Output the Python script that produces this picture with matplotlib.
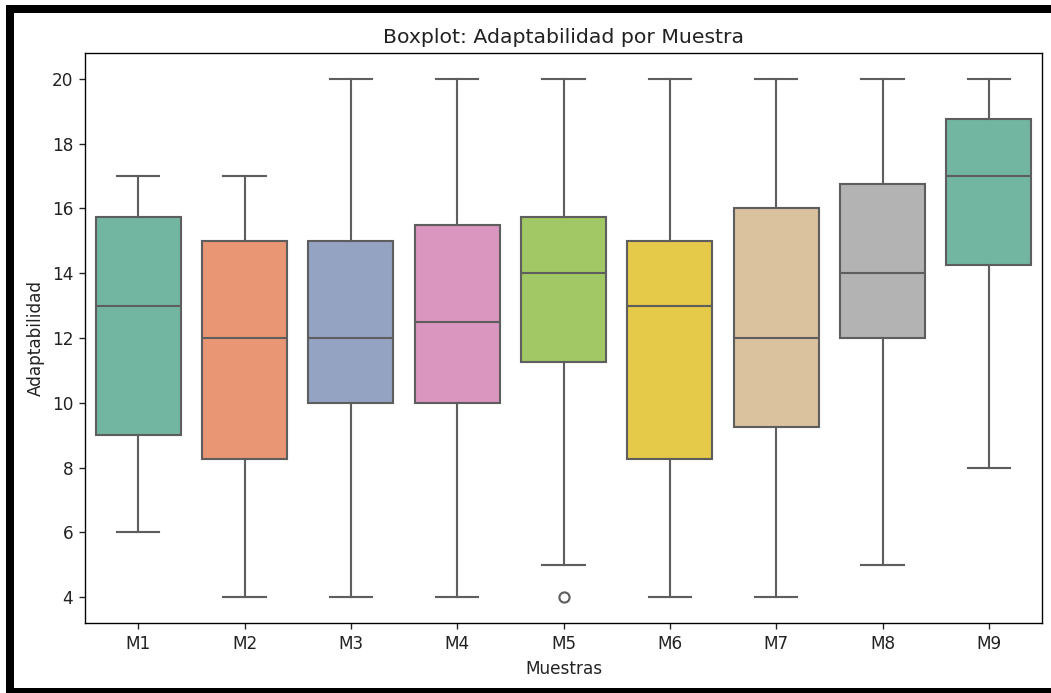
import colorsys
import matplotlib
matplotlib.use("Agg")
import matplotlib.pyplot as plt
import matplotlib.colors as mcolors
from matplotlib.patches import Rectangle

# ── Data ───────────────────────────────────────────────────────────────────────
muestras  = ["M1", "M2", "M3", "M4", "M5", "M6", "M7", "M8", "M9"]
whis_low  = [6, 4, 4, 4, 5, 4, 4, 5, 8]
q1        = [9, 8.25, 10, 10, 11.25, 8.25, 9.25, 12, 14.25]
medians   = [13, 12, 12, 12.5, 14, 13, 12, 14, 17]
q3        = [15.75, 15, 15, 15.5, 15.75, 15, 16, 16.75, 18.75]
whis_high = [17, 17, 20, 20, 20, 20, 20, 20, 20]
outliers  = [[], [], [], [], [4], [], [], [], []]

# the screenshot looks scaled up ~1.22x from a default-sized render
S = 1.22
plt.rcParams.update({
    "axes.linewidth": 0.8 * S,
    "xtick.major.width": 0.8 * S, "ytick.major.width": 0.8 * S,
    "xtick.major.size": 3.5 * S, "ytick.major.size": 3.5 * S,
    "xtick.major.pad": 3.5 * S, "ytick.major.pad": 3.5 * S,
    "xtick.labelsize": 10 * S, "ytick.labelsize": 10 * S,
    "axes.titlepad": 6 * S, "axes.labelpad": 4 * S,
    "xtick.color": "#222222", "ytick.color": "#222222",
})

# Set2 palette, desaturated like seaborn (saturation=0.75)
set2 = plt.get_cmap("Set2").colors


def desat(c, prop=0.75):
    h, l, s = colorsys.rgb_to_hls(*mcolors.to_rgb(c))
    return colorsys.hls_to_rgb(h, l, s * prop)


colors = [desat(set2[i % len(set2)]) for i in range(len(muestras))]
line_c = "#5e5e5e"
lw = 1.25 * S

stats = []
for i, name in enumerate(muestras):
    stats.append({
        "label": name, "whislo": whis_low[i], "q1": q1[i], "med": medians[i],
        "q3": q3[i], "whishi": whis_high[i], "fliers": outliers[i],
    })

fig = plt.figure(figsize=(10.51, 6.93), dpi=100)
ax = fig.add_axes([0.0809, 0.101, 0.9106, 0.8225])

bp = ax.bxp(
    stats, positions=range(len(muestras)), widths=0.8, patch_artist=True,
    showfliers=True,
    boxprops=dict(edgecolor=line_c, linewidth=lw),
    medianprops=dict(color=line_c, linewidth=lw),
    whiskerprops=dict(color=line_c, linewidth=lw),
    capprops=dict(color=line_c, linewidth=lw),
    flierprops=dict(marker="o", markerfacecolor="none", markeredgecolor=line_c,
                    markersize=6 * S, markeredgewidth=lw),
    capwidths=0.4,
)
for patch, col in zip(bp["boxes"], colors):
    patch.set_facecolor(col)

ax.set_xlim(-0.5, len(muestras) - 0.5)
ax.set_ylim(3.2, 20.8)
ax.set_yticks(range(4, 21, 2))
ax.set_xticks(range(len(muestras)))
ax.set_xticklabels(muestras)
ax.set_title("Boxplot: Adaptabilidad por Muestra", fontsize=12 * S, color="#222222")
ax.set_xlabel("Muestras", fontsize=10 * S, color="#222222")
ax.set_ylabel("Adaptabilidad", fontsize=10 * S, color="#222222")

# Black frame around the screenshot (left, top, bottom)
W, H = 1051, 693
for x0, y0, w, h in [(6, 5, 8, 688), (6, 5, 1045, 8), (6, 688, 1045, 5)]:
    fig.patches.append(Rectangle((x0 / W, 1 - (y0 + h) / H), w / W, h / H,
                                 transform=fig.transFigure, facecolor="black",
                                 edgecolor="none", zorder=10))

fig.savefig("out.png", dpi=100)
